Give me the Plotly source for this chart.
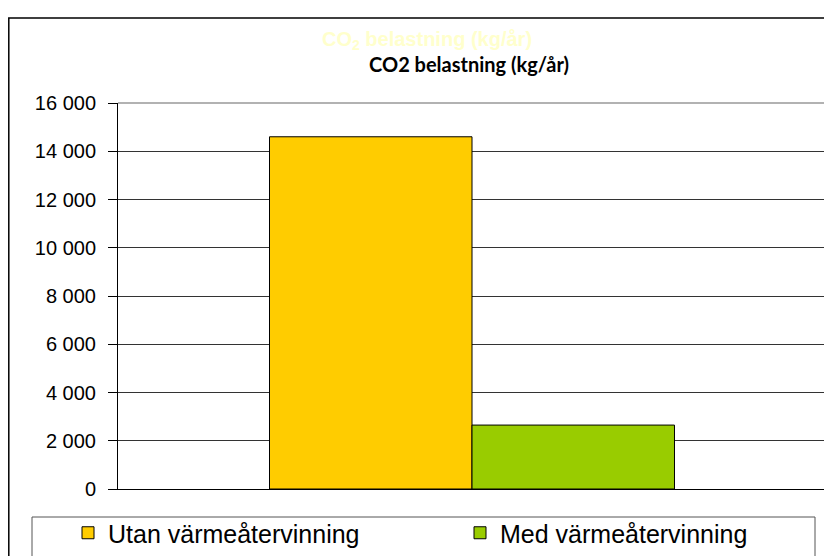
import plotly.graph_objects as go

categories = [""]
series_names = ["Utan värmeåtervinning", "Med värmeåtervinning"]
series_values = [[14600], [2650]]
series_colors = ["#FFCC00", "#99CC00"]
y_ticks = [0, 2000, 4000, 6000, 8000, 10000, 12000, 14000, 16000]

OFF = 8  # page body margin
W, H = 832 - OFF, 556
# plot area in page pixels
L, R, T, B = 118, 826, 103, 489


def px(x):
    return (x - L) / (R - L)


def py(y):
    return (B - y) / (B - T)


fig = go.Figure()
legend_ids = ["legend", "legend2"]
for name, vals, col, lg in zip(series_names, series_values, series_colors, legend_ids):
    fig.add_trace(go.Bar(x=categories, y=vals, name=name, legend=lg,
                         marker=dict(color=col, line=dict(color="black", width=1))))

leg_common = dict(orientation="h", xanchor="left", y=py(533), yanchor="middle",
                  font=dict(size=25, family="Liberation Sans, Arial"),
                  bgcolor="rgba(0,0,0,0)", borderwidth=0)

fig.update_layout(
    width=W, height=H,
    margin=dict(l=L - OFF, r=W - (R - OFF), t=T - OFF, b=H - (B - OFF)),
    paper_bgcolor="white", plot_bgcolor="white",
    barmode="group", bargap=0.428, bargroupgap=0,
    separators=", ",
    font=dict(family="Liberation Sans, Arial", color="black"),
    title=dict(text="<b>CO2 belastning (kg/år)</b>", xref="container", x=(469 - OFF) / W,
               xanchor="center", yref="container", y=1 - (65 - OFF) / H, yanchor="middle",
               font=dict(family="Lato, Open Sans", size=20, color="black")),
    showlegend=True,
    legend=dict(x=px(68), **leg_common),
    legend2=dict(x=px(460), **leg_common),
    xaxis=dict(showticklabels=False, ticks="", showgrid=False, showline=True, linecolor="black",
               linewidth=1, zeroline=False, fixedrange=True),
    yaxis=dict(range=[0, 16000], tickvals=y_ticks, tickformat=",d", ticks="outside", ticklen=9,
               tickcolor="black", showline=True, linecolor="black", linewidth=1, showgrid=True,
               gridcolor="#333333", gridwidth=1, zeroline=False, tickfont=dict(size=20),
               ticklabelstandoff=8),
)

shapes = [
    # outer chart border
    dict(type="rect", xref="paper", yref="paper", x0=px(8.8), x1=px(830), y0=py(580), y1=py(18),
         line=dict(color="black", width=1.5), fillcolor="rgba(0,0,0,0)", layer="below"),
    # plot area top and right border
    dict(type="line", xref="paper", yref="paper", x0=0, x1=1, y0=1, y1=1,
         line=dict(color="#999999", width=1.5)),
    dict(type="line", xref="paper", yref="paper", x0=1, x1=1, y0=0, y1=1,
         line=dict(color="#999999", width=1.5)),
    # legend box
    dict(type="rect", xref="paper", yref="paper", x0=px(32), x1=px(815), y0=py(580), y1=py(517),
         line=dict(color="#555555", width=1), fillcolor="rgba(0,0,0,0)"),
]
fig.update_layout(shapes=shapes)

fig.add_annotation(text="<b>CO<sub>2</sub> belastning (kg/år)</b>", xref="paper", yref="paper",
                   x=px(427), y=py(40), xanchor="center", yanchor="middle", showarrow=False,
                   font=dict(family="Liberation Sans, Arial", size=20, color="#FFFFCC"))

fig.write_html("out.html")
